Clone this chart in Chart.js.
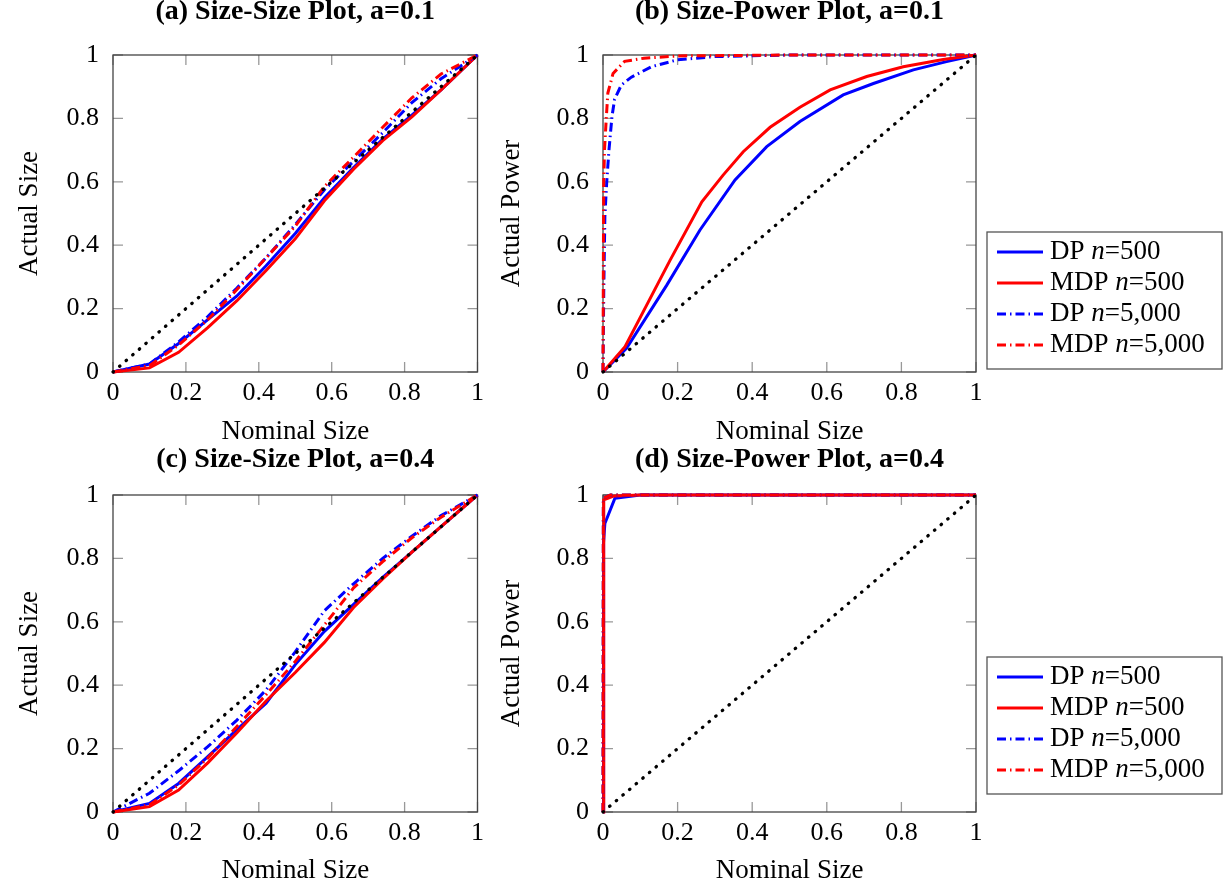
<!DOCTYPE html>
<html>
<head>
<meta charset="utf-8">
<script src="https://cdn.jsdelivr.net/npm/chart.js@4.4.0/dist/chart.umd.min.js"></script>
<style>
  body { margin: 0; background: #fff; width: 1229px; height: 888px; position: relative; overflow: hidden; }
  canvas { position: absolute; }
</style>
</head>
<body>
<canvas id="chartA" width="490" height="460" style="left:0;top:0"></canvas>
<canvas id="chartB" width="739" height="460" style="left:490px;top:0"></canvas>
<canvas id="chartC" width="490" height="444" style="left:0;top:444px"></canvas>
<canvas id="chartD" width="739" height="444" style="left:490px;top:444px"></canvas>
<script>
const FONT = "'Liberation Serif', 'Times New Roman', serif";
const blue = '#0000FF';
const red = '#FF0000';
const dashDot = [9, 4, 1.5, 4];

const axisTicks = [0, 0.2, 0.4, 0.6, 0.8, 1];
const diagX = [0, 1];
const diagY = [0, 1];

// (a) size-size, a=0.1
const sizeA = [0, 0.1, 0.18, 0.26, 0.34, 0.42, 0.5, 0.58, 0.66, 0.74, 0.82, 0.9, 1];
const dpA500 = [0, 0.025, 0.09, 0.165, 0.24, 0.335, 0.437, 0.55, 0.645, 0.735, 0.81, 0.89, 1];
const mdpA500 = [0, 0.013, 0.062, 0.14, 0.225, 0.32, 0.42, 0.54, 0.64, 0.73, 0.805, 0.89, 1];
const dpA5000 = [0, 0.025, 0.095, 0.175, 0.265, 0.36, 0.465, 0.575, 0.665, 0.755, 0.85, 0.925, 1];
const mdpA5000 = [0, 0.02, 0.085, 0.165, 0.26, 0.36, 0.46, 0.585, 0.678, 0.772, 0.865, 0.94, 1];

// (b) size-power, a=0.1
const dpB500x = [0, 0.063, 0.171, 0.26, 0.354, 0.439, 0.528, 0.644, 0.725, 0.832, 0.921, 1];
const dpB500y = [0, 0.075, 0.274, 0.448, 0.606, 0.711, 0.79, 0.874, 0.91, 0.953, 0.979, 1];
const mdpB500x = [0, 0.059, 0.18, 0.265, 0.322, 0.376, 0.448, 0.528, 0.609, 0.707, 0.805, 0.912, 1];
const mdpB500y = [0, 0.08, 0.353, 0.537, 0.621, 0.695, 0.772, 0.835, 0.89, 0.932, 0.963, 0.986, 1];
const dpB5000x = [0, 0.002, 0.005, 0.01, 0.016, 0.024, 0.031, 0.049, 0.076, 0.13, 0.2, 0.3, 0.5, 1];
const dpB5000y = [0, 0.25, 0.49, 0.6, 0.7, 0.805, 0.86, 0.905, 0.93, 0.963, 0.985, 0.995, 1, 1];
const mdpB5000x = [0, 0.001, 0.002, 0.004, 0.009, 0.013, 0.027, 0.058, 0.11, 0.2, 0.5, 1];
const mdpB5000y = [0, 0.35, 0.6, 0.7, 0.805, 0.88, 0.942, 0.98, 0.99, 0.997, 1, 1];

// (c) size-size, a=0.4
const sizeC = [0, 0.1, 0.18, 0.26, 0.34, 0.42, 0.5, 0.58, 0.66, 0.74, 0.82, 0.9, 1];
const dpC500 = [0, 0.027, 0.09, 0.175, 0.26, 0.343, 0.465, 0.57, 0.655, 0.74, 0.82, 0.9, 1];
const mdpC500 = [0, 0.017, 0.069, 0.155, 0.25, 0.35, 0.44, 0.535, 0.645, 0.735, 0.82, 0.9, 1];
const dpC5000 = [0, 0.059, 0.13, 0.206, 0.29, 0.385, 0.505, 0.635, 0.72, 0.8, 0.87, 0.935, 1];
const mdpC5000 = [0, 0.022, 0.085, 0.17, 0.27, 0.37, 0.475, 0.59, 0.707, 0.79, 0.865, 0.93, 1];

// (d) size-power, a=0.4
const dpD500x = [0, 0.0015, 0.005, 0.032, 0.1, 1];
const dpD500y = [0, 0.85, 0.91, 0.99, 1, 1];
const mdpD500x = [0, 0.002, 0.03, 0.1, 1];
const mdpD500y = [0, 0.985, 0.997, 1, 1];
const dpD5000x = [0, 0.001, 0.02, 1];
const dpD5000y = [0, 0.99, 1, 1];
const mdpD5000x = [0, 0.001, 0.02, 1];
const mdpD5000y = [0, 0.99, 1, 1];

function pts(xs, ys) {
    return xs.map((x, i) => ({x: x, y: ys[i]}));
}

function series(label, color, dash, xs, ys, order) {
    return {
        label: label, data: pts(xs, ys), borderColor: color, backgroundColor: color,
        borderWidth: 3, borderDash: dash, pointRadius: 0, tension: 0, order: order, clip: 6
    };
}

function diagonal() {
    return {
        data: pts(diagX, diagY), borderColor: '#000', borderWidth: 3.3, borderDash: [0.5, 8.2],
        borderCapStyle: 'round', pointRadius: 0, order: 0, clip: 6
    };
}

// frame + inward ticks on all four sides, under the curves
const framePlugin = {
    id: 'frame',
    beforeDatasetsDraw(chart) {
        const ctx = chart.ctx, ca = chart.chartArea;
        const xs = chart.scales.x, ys = chart.scales.y;
        ctx.save();
        ctx.strokeStyle = '#999';
        ctx.lineWidth = 1.3;
        ctx.beginPath();
        axisTicks.forEach(v => {
            const px = xs.getPixelForValue(v), py = ys.getPixelForValue(v);
            ctx.moveTo(px, ca.bottom); ctx.lineTo(px, ca.bottom - 10);
            ctx.moveTo(px, ca.top); ctx.lineTo(px, ca.top + 10);
            ctx.moveTo(ca.left, py); ctx.lineTo(ca.left + 10, py);
            ctx.moveTo(ca.right, py); ctx.lineTo(ca.right - 10, py);
        });
        ctx.stroke();
        ctx.strokeStyle = '#444';
        ctx.lineWidth = 1.3;
        ctx.strokeRect(ca.left, ca.top, ca.right - ca.left, ca.bottom - ca.top);
        ctx.restore();
    }
};

const titlePlugin = {
    id: 'panelTitle',
    afterDraw(chart, args, opts) {
        const ctx = chart.ctx, ca = chart.chartArea;
        ctx.save();
        ctx.font = 'bold 28px ' + FONT;
        ctx.fillStyle = '#000';
        ctx.textAlign = 'center';
        ctx.textBaseline = 'middle';
        ctx.fillText(opts.text, (ca.left + ca.right) / 2, ca.top - opts.gap);
        ctx.restore();
    }
};

const legendPlugin = {
    id: 'legendBox',
    afterDraw(chart, args, opts) {
        if (!opts.show) return;
        const ctx = chart.ctx, ca = chart.chartArea;
        const x0 = ca.right + 11, y0 = ca.top + opts.offsetTop;
        const items = chart.data.datasets.filter(d => d.label);
        ctx.save();
        ctx.fillStyle = '#fff';
        ctx.fillRect(x0, y0, 235, 137);
        ctx.strokeStyle = '#555';
        ctx.lineWidth = 1.3;
        ctx.strokeRect(x0, y0, 235, 137);
        ctx.textBaseline = 'middle';
        items.forEach((d, i) => {
            const y = y0 + 20 + i * 31;
            ctx.strokeStyle = d.borderColor;
            ctx.lineWidth = 3;
            ctx.setLineDash(d.borderDash);
            ctx.beginPath();
            ctx.moveTo(x0 + 10, y);
            ctx.lineTo(x0 + 56, y);
            ctx.stroke();
            ctx.setLineDash([]);
            const parts = d.label.split('n=');
            let x = x0 + 63;
            ctx.fillStyle = '#000';
            ctx.font = '27px ' + FONT;
            ctx.fillText(parts[0], x, y);
            x += ctx.measureText(parts[0]).width;
            ctx.font = 'italic 27px ' + FONT;
            ctx.fillText('n', x, y);
            x += ctx.measureText('n').width;
            ctx.font = '27px ' + FONT;
            ctx.fillText('=' + parts[1], x, y);
        });
        ctx.restore();
    }
};

function axis(title, isX, size, titlePad) {
    return {
        type: 'linear', min: 0, max: 1,
        grid: {display: false, drawTicks: false},
        border: {display: false},
        ticks: {
            stepSize: 0.2, color: '#000', maxRotation: 0, autoSkip: false,
            font: {family: FONT, size: 26},
            padding: isX ? 6 : 14,
            callback: v => String(Math.round(v * 10) / 10)
        },
        title: {display: true, text: title, color: '#000', font: {family: FONT, size: 27}, padding: titlePad},
        afterFit: s => { if (isX) s.height = size; else s.width = size; }
    };
}

function makeChart(id, datasets, opt) {
    new Chart(document.getElementById(id).getContext('2d'), {
        type: 'line',
        data: {datasets: datasets},
        options: {
            responsive: false, animation: false, devicePixelRatio: 1,
            layout: {autoPadding: false, padding: {top: opt.top, right: opt.right, left: 0, bottom: 0}},
            scales: {
                x: axis('Nominal Size', true, opt.xh, {top: 0, bottom: opt.xtPad}),
                y: axis(opt.ytitle, false, 113, {top: opt.ytPad, bottom: 0})
            },
            plugins: {
                legend: {display: false},
                tooltip: {enabled: false},
                panelTitle: {text: opt.title, gap: opt.gap},
                legendBox: {show: opt.legend, offsetTop: opt.legendTop}
            }
        },
        plugins: [framePlugin, titlePlugin, legendPlugin]
    });
}

makeChart('chartA', [
    series('DP n=500', blue, [], sizeA, dpA500, 4),
    series('MDP n=500', red, [], sizeA, mdpA500, 3),
    series('DP n=5,000', blue, dashDot, sizeA, dpA5000, 2),
    series('MDP n=5,000', red, dashDot, sizeA, mdpA5000, 1),
    diagonal()
], {top: 55, right: 4, xh: 88, xtPad: 12, ytitle: 'Actual Size', ytPad: 14, title: '(a) Size-Size Plot, a=0.1', gap: 43, legend: false});

makeChart('chartB', [
    series('DP n=500', blue, [], dpB500x, dpB500y, 4),
    series('MDP n=500', red, [], mdpB500x, mdpB500y, 3),
    series('DP n=5,000', blue, dashDot, dpB5000x, dpB5000y, 2),
    series('MDP n=5,000', red, dashDot, mdpB5000x, mdpB5000y, 1),
    diagonal()
], {top: 55, right: 253, xh: 88, xtPad: 12, ytitle: 'Actual Power', ytPad: 6, title: '(b) Size-Power Plot, a=0.1', gap: 43, legend: true, legendTop: 177});

makeChart('chartC', [
    series('DP n=500', blue, [], sizeC, dpC500, 4),
    series('MDP n=500', red, [], sizeC, mdpC500, 3),
    series('DP n=5,000', blue, dashDot, sizeC, dpC5000, 2),
    series('MDP n=5,000', red, dashDot, sizeC, mdpC5000, 1),
    diagonal()
], {top: 51, right: 4, xh: 76, xtPad: 1, ytitle: 'Actual Size', ytPad: 14, title: '(c) Size-Size Plot, a=0.4', gap: 35, legend: false});

makeChart('chartD', [
    series('DP n=500', blue, [], dpD500x, dpD500y, 4),
    series('MDP n=500', red, [], mdpD500x, mdpD500y, 3),
    series('DP n=5,000', blue, dashDot, dpD5000x, dpD5000y, 2),
    series('MDP n=5,000', red, dashDot, mdpD5000x, mdpD5000y, 1),
    diagonal()
], {top: 51, right: 253, xh: 76, xtPad: 1, ytitle: 'Actual Power', ytPad: 6, title: '(d) Size-Power Plot, a=0.4', gap: 35, legend: true, legendTop: 162});
</script>
</body>
</html>
